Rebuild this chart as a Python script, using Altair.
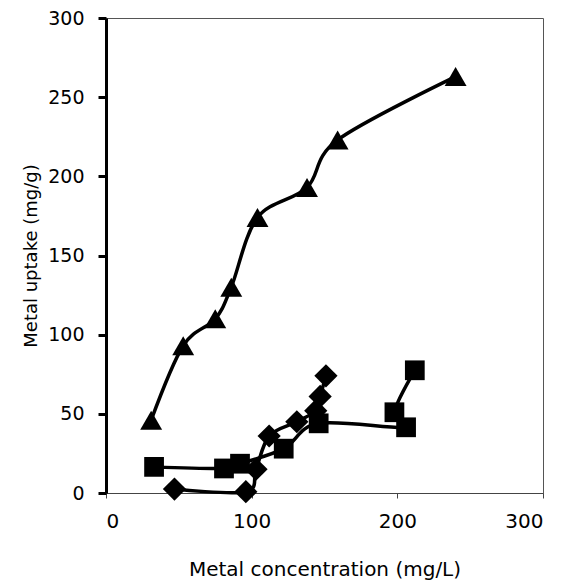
import altair as alt
import pandas as pd

# Series 1: triangles
tri_x = [31, 53, 75, 86, 104, 138, 159, 240]
tri_y = [46, 93, 110, 130, 174, 193, 223, 263]
# Series 2: squares (in drawing order)
sq_x = [33, 81, 92, 122, 146, 206, 198, 212]
sq_y = [16.5, 15.5, 18.5, 28, 44, 41.5, 51, 77.5]
# Series 3: diamonds
dia_x = [47, 96, 103, 112, 131, 144, 147, 151]
dia_y = [2.5, 0.8, 15, 36, 45, 52, 61, 74]

x_ticks = [0, 100, 200, 300]
y_ticks = [0, 50, 100, 150, 200, 250, 300]

rows = []
for name, xs, ys in [("tri", tri_x, tri_y), ("sq", sq_x, sq_y), ("dia", dia_x, dia_y)]:
    for i, (xv, yv) in enumerate(zip(xs, ys)):
        rows.append({"series": name, "x": xv, "y": yv, "order": i})
df = pd.DataFrame(rows)

FONT = "DejaVu Sans"

x_enc = alt.X(
    "x:Q",
    scale=alt.Scale(domain=[0, 300], nice=False, zero=False),
    axis=alt.Axis(
        values=x_ticks,
        title="Metal concentration (mg/L)",
        grid=False,
        domainColor="#444444",
        domainWidth=1,
        tickColor="#444444",
        tickWidth=1,
        tickSize=5,
        labelFont=FONT,
        labelFontSize=20,
        labelColor="black",
        labelPadding=13,
        titleFont=FONT,
        titleFontSize=20,
        titleFontWeight="normal",
        titleColor="black",
        titlePadding=28,
    ),
)
y_enc = alt.Y(
    "y:Q",
    scale=alt.Scale(domain=[0, 300], nice=False, zero=False),
    axis=alt.Axis(
        values=y_ticks,
        title="Metal uptake (mg/g)",
        grid=False,
        domainColor="black",
        domainWidth=3,
        tickColor="black",
        tickWidth=3,
        tickSize=8,
        labelFont=FONT,
        labelFontSize=19,
        labelColor="black",
        labelPadding=14,
        titleFont=FONT,
        titleFontSize=18,
        titleFontWeight="normal",
        titleColor="black",
        titlePadding=7,
    ),
)

lines = alt.Chart(df).mark_line(
    interpolate="cardinal", color="black", strokeWidth=3.5
).encode(
    x=x_enc, y=y_enc, detail="series:N", order="order:Q"
)

def pts(series, shape, size):
    return alt.Chart(df).transform_filter(
        alt.datum.series == series
    ).mark_point(
        filled=True, opacity=1, color="black", strokeWidth=0, shape=shape, size=size
    ).encode(x="x:Q", y="y:Q")

chart = (
    alt.layer(
        lines,
        pts("tri", "triangle-up", 480),
        pts("sq", "square", 390),
        pts("dia", "diamond", 540),
    )
    .properties(
        width=437,
        height=475,
        autosize=alt.AutoSizeParams(type="none"),
        padding={"left": 98, "top": 10, "right": 16, "bottom": 91},
        background="white",
    )
    .configure_view(stroke="#555555", strokeWidth=1)
)

chart.save("out.html", embed_options={"renderer": "svg", "actions": False})
